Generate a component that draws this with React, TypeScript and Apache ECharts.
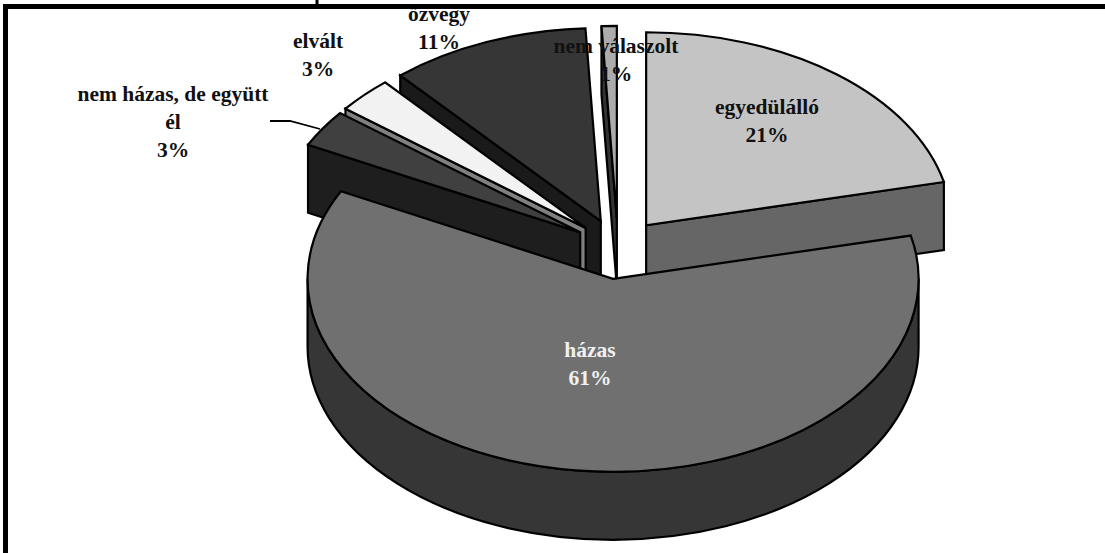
import React, { useEffect, useRef } from "react";
import * as echarts from "echarts";

const categories = ["egyedülálló", "házas", "nem házas, de együtt\nél", "elvált", "özvegy", "nem válaszolt"];
const shares = [21.4, 61.1, 3.1, 3.0, 10.6, 0.8];

const topColors = ["#c4c4c4", "#707070", "#404040", "#f2f2f2", "#363636", "#acacac"];
const wallColors = ["#666666", "#363636", "#1e1e1e", "#808080", "#1a1a1a", "#333333"];
const labelColors = ["#111111", "#f0f0f0", "#111111", "#111111", "#111111", "#111111"];
const paintOrder = [5, 6, 4, 3, 2, 1];
const labelAnchors: [number, number][] = [
  [767, 121], [590, 364], [173, 122], [318, 55], [439, 27.5], [616, 60],
];
const sliceNudges: [number, number][] = [[-0.5, 0], [0.7, 2], [1, 0], [1, 0], [0, 0], [0, 0]];

const CX = 618, CY = 248, RX = 305.5, RY = 193, DEPTH = 68, EXPLODE = 46;
const total = shares.reduce((a, b) => a + b, 0);
const rad = (d: number) => (d * Math.PI) / 180;

function slicePaths(i: number) {
  const start = shares.slice(0, i).reduce((a, b) => a + b, 0) / total * 360;
  const sweep = shares[i] / total * 360;
  const end = start + sweep;
  const mid = start + sweep / 2;
  const cx = CX + EXPLODE * Math.sin(rad(mid)) + sliceNudges[i][0];
  const cy = CY - EXPLODE * (RY / RX) * Math.cos(rad(mid)) + sliceNudges[i][1];
  const pt = (a: number, dy = 0) => [cx + RX * Math.sin(rad(a)), cy - RY * Math.cos(rad(a)) + dy];
  const arc = (a: number, b: number, dy = 0, rev = false) => {
    const to = rev ? pt(a, dy) : pt(b, dy);
    return `A${RX} ${RY} 0 ${b - a > 180 ? 1 : 0} ${rev ? 0 : 1} ${to[0]} ${to[1]}`;
  };
  const walls: string[] = [];
  const radial = (a: number) => {
    const p = pt(a), q = pt(a, DEPTH);
    return `M${cx} ${cy}L${p[0]} ${p[1]}L${q[0]} ${q[1]}L${cx} ${cy + DEPTH}Z`;
  };
  if (start > 180) walls.push(radial(start));
  if (end < 180) walls.push(radial(end));
  const a0 = Math.max(start, 90), a1 = Math.min(end, 270);
  if (a1 > a0) {
    const p0 = pt(a0), p1 = pt(a1, DEPTH);
    walls.push(`M${p0[0]} ${p0[1]}${arc(a0, a1)}L${p1[0]} ${p1[1]}${arc(a0, a1, DEPTH, true)}Z`);
  }
  const s = pt(start);
  const top = `M${cx} ${cy}L${s[0]} ${s[1]}${arc(start, end)}Z`;
  return { walls, top };
}

const outline = { stroke: "#000000", lineWidth: 2.2, lineJoin: "miter" as const };

export default function App() {
  const ref = useRef<HTMLDivElement>(null);
  useEffect(() => {
    document.body.style.margin = "0";
    const chart = echarts.init(ref.current!, null, { renderer: "svg" });
    chart.setOption({
      animation: false,
      backgroundColor: "#ffffff",
      series: [
        {
          type: "custom",
          coordinateSystem: "none",
          silent: true,
          z: 2,
          data: shares.map((v, i) => [i, v]),
          renderItem: (_p: any, api: any) => {
            const i = api.value(0) as number;
            const { walls, top } = slicePaths(i);
            return {
              type: "group",
              children: [
                ...walls.map((d) => ({
                  type: "path",
                  z2: paintOrder[i] * 10,
                  shape: { pathData: d },
                  style: { fill: wallColors[i], ...outline },
                })),
                {
                  type: "path",
                  z2: paintOrder[i] * 10 + 1,
                  shape: { pathData: top },
                  style: { fill: topColors[i], ...outline },
                },
              ],
            };
          },
        },
        {
          type: "custom",
          coordinateSystem: "none",
          silent: true,
          z: 5,
          data: shares.map((v, i) => [i, v]),
          renderItem: (_p: any, api: any) => {
            const i = api.value(0) as number;
            return {
              type: "text",
              style: {
                text: `${categories[i]}\n${Math.round(shares[i])}%`,
                x: labelAnchors[i][0],
                y: labelAnchors[i][1],
                align: "center",
                verticalAlign: "middle",
                lineHeight: 28,
                fill: labelColors[i],
                font: 'bold 21.5px "Liberation Serif"',
              },
            };
          },
        },
      ],
      graphic: [
        { type: "polyline", z: 4, shape: { points: [[270, 121], [290, 121], [320, 129]] }, style: { fill: "none", stroke: "#000", lineWidth: 1.8 } },
        { type: "rect", z: 10, shape: { x: 3, y: 4, width: 1102, height: 5 }, style: { fill: "#000" } },
        { type: "rect", z: 10, shape: { x: 3, y: 4, width: 5, height: 549 }, style: { fill: "#000" } },
        { type: "rect", z: 10, shape: { x: 315.5, y: 0, width: 3, height: 4 }, style: { fill: "#000" } },
      ],
    });
    return () => chart.dispose();
  }, []);
  return <div ref={ref} style={{ position: "fixed", left: 0, top: 0, width: 1105, height: 553 }} />;
}
